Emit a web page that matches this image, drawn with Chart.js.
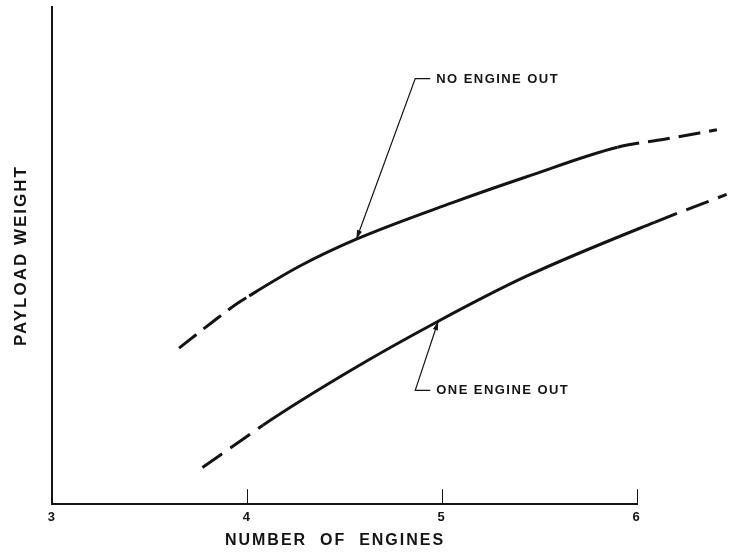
<!DOCTYPE html>
<html>
<head>
<meta charset="utf-8">
<script src="https://cdn.jsdelivr.net/npm/chart.js@4.4.1/dist/chart.umd.min.js"></script>
<style>
  html, body { margin: 0; padding: 0; background: #fff; }
  #wrap { width: 739px; height: 555px; }
</style>
</head>
<body>
<div id="wrap"><canvas id="payloadChart"></canvas></div>
<script>
// values (y is relative payload, no scale on the original)
const noOutX = [3.65, 3.82, 3.95, 4.01, 4.27, 4.56, 5.05, 5.43, 5.90, 6.14, 6.41];
const noOutY = [31.4, 36.6, 40.4, 41.9, 47.9, 53.3, 60.6, 65.8, 71.8, 73.4, 75.3];
const oneOutX = [3.77, 4.03, 4.08, 4.53, 4.98, 5.43, 6.09, 6.46];
const oneOutY = [7.4, 14.5, 15.9, 26.9, 36.8, 45.8, 56.7, 62.3];
// part of each curve drawn solid, the rest is dashed
const noOutSolid = [4.01, 5.90];
const oneOutSolid = [4.08, 6.09];
const xTicks = [3, 4, 5, 6];

const ink = '#141414';
const family = '"Liberation Sans", Arial, sans-serif';

function toPoints(xs, ys) {
    return xs.map((x, i) => ({ x: x, y: ys[i] }));
}

// dashed where the segment falls outside the solid range
function dashOutside(range, dash) {
    return ctx => (ctx.p0.parsed.x < range[0] || ctx.p1.parsed.x > range[1]) ? dash : undefined;
}

// the lettering on the original is spaced out
const letterSpacing = {
    id: 'letterSpacing',
    beforeLayout(chart) { chart.ctx.letterSpacing = '2px'; },
    beforeDraw(chart) { chart.ctx.letterSpacing = '2px'; }
};

// leader lines with arrows pointing at a point of each curve
const callouts = [
    { text: 'NO ENGINE OUT', dataset: 0, index: 5, elbow: [4.862, 85.6] },
    { text: 'ONE ENGINE OUT', dataset: 1, index: 4, elbow: [4.862, 22.9] }
];

const calloutPlugin = {
    id: 'callouts',
    afterDatasetsDraw(chart) {
        const { ctx, scales: { x, y } } = chart;
        ctx.save();
        ctx.strokeStyle = ink;
        ctx.fillStyle = ink;
        ctx.lineWidth = 1.2;
        callouts.forEach(c => {
            const pt = chart.getDatasetMeta(c.dataset).data[c.index];
            const ex = x.getPixelForValue(c.elbow[0]);
            const ey = y.getPixelForValue(c.elbow[1]);
            ctx.beginPath();
            ctx.moveTo(ex + 15, ey);
            ctx.lineTo(ex, ey);
            ctx.lineTo(pt.x, pt.y);
            ctx.stroke();

            // arrow head
            const ang = Math.atan2(pt.y - ey, pt.x - ex);
            const len = 9, half = 2.6;
            ctx.beginPath();
            ctx.moveTo(pt.x, pt.y);
            ctx.lineTo(pt.x - len * Math.cos(ang) + half * Math.sin(ang), pt.y - len * Math.sin(ang) - half * Math.cos(ang));
            ctx.lineTo(pt.x - len * Math.cos(ang) - half * Math.sin(ang), pt.y - len * Math.sin(ang) + half * Math.cos(ang));
            ctx.closePath();
            ctx.fill();

            ctx.letterSpacing = '1.45px';
            ctx.font = 'bold 13px ' + family;
            ctx.textBaseline = 'middle';
            ctx.textAlign = 'left';
            ctx.fillText(c.text, ex + 21, ey + 0.5);
        });
        ctx.restore();
    }
};

new Chart(document.getElementById('payloadChart'), {
    type: 'line',
    data: {
        datasets: [{
            label: 'NO ENGINE OUT',
            data: toPoints(noOutX, noOutY),
            clip: false,
            segment: { borderDash: dashOutside(noOutSolid, [22, 9]) }
        }, {
            label: 'ONE ENGINE OUT',
            data: toPoints(oneOutX, oneOutY),
            clip: false,
            segment: { borderDash: dashOutside(oneOutSolid, [24, 10]) }
        }]
    },
    options: {
        responsive: true,
        maintainAspectRatio: false,
        animation: false,
        events: [],
        layout: { padding: { top: 7, right: 102, bottom: 0, left: 0 } },
        elements: {
            point: { radius: 0 },
            line: {
                borderColor: ink,
                borderWidth: 3,
                cubicInterpolationMode: 'monotone',
                borderCapStyle: 'butt',
                fill: false
            }
        },
        plugins: {
            legend: { display: false },
            tooltip: { enabled: false }
        },
        scales: {
            x: {
                type: 'linear',
                // axis runs 3..6, the curves carry on past the end of it
                afterDataLimits: scale => {
                    scale.min = xTicks[0];
                    scale.max = xTicks[xTicks.length - 1];
                },
                afterBuildTicks: scale => { scale.ticks = xTicks.map(v => ({ value: v })); },
                border: { display: true, color: ink, width: 2 },
                // short tick marks pointing up into the plot
                grid: { display: true, drawOnChartArea: false, drawTicks: true, tickLength: -15, color: ink, lineWidth: 1 },
                ticks: { color: ink, padding: 20, font: { family: family, size: 13, weight: 'bold' } },
                title: {
                    display: true,
                    text: 'NUMBER  OF  ENGINES   ',
                    color: ink,
                    font: { family: family, size: 16, weight: 'bold' },
                    padding: { top: -14, bottom: 5 }
                }
            },
            y: {
                min: 0,
                max: 100,
                border: { display: true, color: ink, width: 2 },
                grid: { display: false, drawTicks: false },
                ticks: { display: false },
                title: {
                    display: true,
                    text: 'PAYLOAD WEIGHT',
                    color: ink,
                    font: { family: family, size: 17, weight: 'bold' },
                    padding: { top: 11, bottom: 21 }
                }
            }
        }
    },
    plugins: [letterSpacing, calloutPlugin]
});
</script>
</body>
</html>
